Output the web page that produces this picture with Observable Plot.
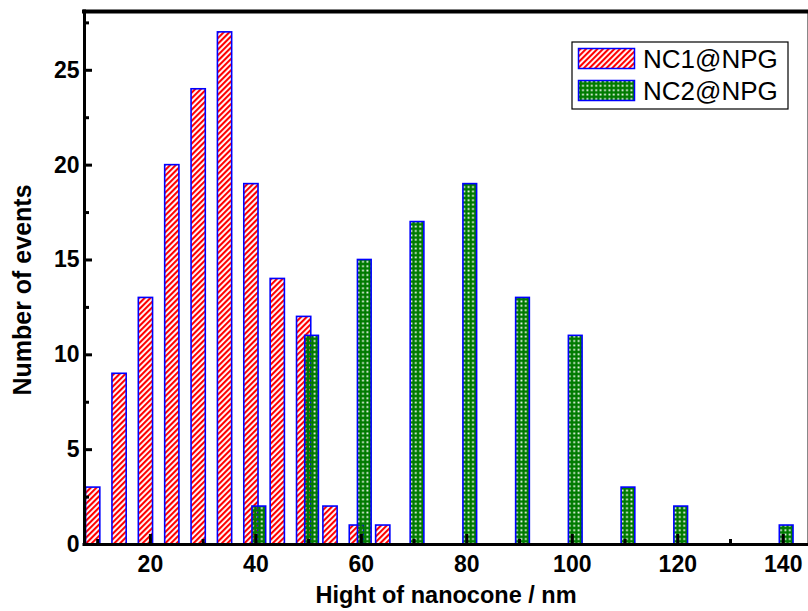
<!DOCTYPE html>
<html>
<head>
<meta charset="utf-8">
<script src="https://cdn.jsdelivr.net/npm/d3@7"></script>
<script src="https://cdn.jsdelivr.net/npm/@observablehq/plot@0.6"></script>
<style>
  html, body { margin: 0; padding: 0; background: #fff; }
  #chart svg { display: block; }
</style>
</head>
<body>
<div id="chart"></div>
<script>
// ---- data ----
const nc1Bins = [10, 15, 20, 25, 30, 35, 40, 45, 50, 55, 60, 65];
const nc1Counts = [3, 9, 13, 20, 24, 27, 19, 14, 12, 2, 1, 1];
const nc2Bins = [40, 50, 60, 70, 80, 90, 100, 110, 120, 140];
const nc2Counts = [2, 11, 15, 17, 19, 13, 11, 3, 2, 1];
const xTickLabels = [20, 40, 60, 80, 100, 120, 140];
const xMinorTicks = [10, 30, 50, 70, 90, 110, 130];
const yTickLabels = [0, 5, 10, 15, 20, 25];
const yMinorTicks = [2.5, 7.5, 12.5, 17.5, 22.5, 27.5];
const seriesNames = ["NC1@NPG", "NC2@NPG"];
const xTitle = "Hight of nanocone / nm";
const yTitle = "Number of events";

// ---- layout ----
const W = 808, H = 611;
const mL = 84, mR = 1, mT = 11, mB = 67;
const plotW = W - mL - mR, plotH = H - mT - mB;
const xDomain = [7.5, 144.6];
const yDomain = [0, 28.1];
const FONT = "'Liberation Sans', Arial, Helvetica, sans-serif";

const nc1 = nc1Bins.map((x, i) => ({x, count: nc1Counts[i]}));
const nc2 = nc2Bins.map((x, i) => ({x, count: nc2Counts[i]}));

const defsMark = () => {
  const defs = d3.create("svg:defs");
  const h = defs.append("pattern").attr("id", "hatchRed")
    .attr("patternUnits", "userSpaceOnUse").attr("width", 4).attr("height", 4)
    .attr("patternTransform", "rotate(45)");
  h.append("rect").attr("width", 4).attr("height", 4).attr("fill", "#fff");
  h.append("rect").attr("width", 2.1).attr("height", 4).attr("fill", "#ff0000");
  const g = defs.append("pattern").attr("id", "dotsGreen")
    .attr("patternUnits", "userSpaceOnUse").attr("width", 4.4).attr("height", 4.4);
  g.append("path").attr("d", "M0 0H4.4V4.4H0Z M1.3 1.3V3.1H3.1V1.3Z")
    .attr("fill", "#007a00").attr("fill-rule", "evenodd");
  return defs.node();
};

const legendMark = () => {
  const g = d3.create("svg:g");
  const bx = 572, by = 42, bw = 216, bh = 67;
  g.append("rect").attr("x", bx).attr("y", by).attr("width", bw).attr("height", bh)
    .attr("fill", "#fff").attr("stroke", "#000").attr("stroke-width", 1.2);
  const rows = [
    {name: seriesNames[0], fill: "url(#hatchRed)", y: 48.5},
    {name: seriesNames[1], fill: "url(#dotsGreen)", y: 80.5}
  ];
  for (const r of rows) {
    g.append("rect").attr("x", 578.5).attr("y", r.y).attr("width", 56).attr("height", 20)
      .attr("fill", r.fill).attr("stroke", "#0000ff").attr("stroke-width", 1.5);
    g.append("text").attr("x", 643).attr("y", r.y + 19)
      .attr("text-anchor", "start")
      .attr("font-size", 26).attr("font-family", FONT).attr("fill", "#000")
      .text(r.name);
  }
  return g.node();
};

const chart = Plot.plot({
  width: W,
  height: H,
  marginLeft: mL,
  marginRight: mR,
  marginTop: mT,
  marginBottom: mB,
  style: {fontFamily: FONT, background: "#fff", overflow: "visible"},
  x: {domain: xDomain, axis: null},
  y: {domain: yDomain, axis: null},
  marks: [
    defsMark,
    Plot.rectY(nc1, {
      x1: d => d.x - 2.2, x2: d => d.x + 0.5, y1: 0, y2: "count",
      fill: "url(#hatchRed)", stroke: "#0000ff", strokeWidth: 1.6
    }),
    Plot.rectY(nc2, {
      x1: d => d.x - 0.65, x2: d => d.x + 1.95, y1: 0, y2: "count",
      fill: "url(#dotsGreen)", stroke: "#0000ff", strokeWidth: 1.6
    }),
    // frame lines
    Plot.ruleX([xDomain[1]], {x: d => d, stroke: "#888", strokeWidth: 1}),
    Plot.ruleY([yDomain[1]], {y: d => d, stroke: "#000", strokeWidth: 4, strokeLinecap: "square"}),
    Plot.ruleX([xDomain[0]], {x: d => d, stroke: "#000", strokeWidth: 3, strokeLinecap: "square"}),
    Plot.ruleY([yDomain[0]], {y: d => d, stroke: "#000", strokeWidth: 3, strokeLinecap: "square"}),
    // ticks (inward)
    Plot.tickX(xTickLabels, {x: d => d, insetTop: plotH - 10, stroke: "#000", strokeWidth: 3}),
    Plot.tickX(xMinorTicks, {x: d => d, insetTop: plotH - 5, stroke: "#000", strokeWidth: 3}),
    Plot.tickY(yTickLabels, {y: d => d, insetRight: plotW - 8, stroke: "#000", strokeWidth: 3}),
    Plot.tickY(yMinorTicks, {y: d => d, insetRight: plotW - 5, stroke: "#000", strokeWidth: 3}),
    // tick labels
    Plot.axisX(xTickLabels, {anchor: "bottom", tickSize: 0, tickPadding: 11, label: null,
      fontSize: 23, fontWeight: "bold", fill: "#000"}),
    Plot.axisY(yTickLabels, {anchor: "left", tickSize: 0, tickPadding: 5, label: null,
      fontSize: 23, fontWeight: "bold", fill: "#000"}),
    // titles
    Plot.text([xTitle], {text: d => d, frameAnchor: "bottom", lineAnchor: "top", textAnchor: "middle", dy: 42,
      fontSize: 23.5, fontWeight: "bold", fill: "#000"}),
    Plot.text([yTitle], {text: d => d, frameAnchor: "left", lineAnchor: "top", textAnchor: "middle",
      rotate: -90, dx: -71, dy: 12,
      fontSize: 25, fontWeight: "bold", fill: "#000"}),
    legendMark
  ]
});
document.getElementById("chart").appendChild(chart);
</script>
</body>
</html>
